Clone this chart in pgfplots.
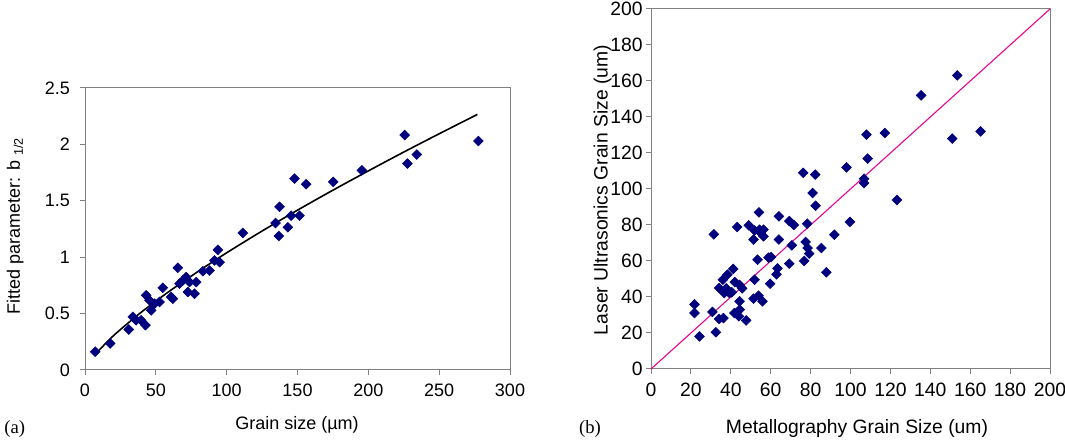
\documentclass[border=0pt]{standalone}
\usepackage{fontspec}
\setmainfont{Liberation Sans}
\newfontfamily\seriffont{Liberation Serif}
\usepackage{pgfplots}
\pgfplotsset{compat=1.18}

% b_{1/2} against grain size
\pgfplotstableread{
x y
7.2 0.162
17.8 0.235
30.9 0.359
33.8 0.471
36.1 0.441
39.6 0.441
42.7 0.397
43.2 0.662
45.5 0.618
46.7 0.529
49.1 0.588
52.6 0.603
54.9 0.729
60.8 0.647
62.0 0.632
65.5 0.906
66.7 0.765
69.1 0.794
71.4 0.824
72.6 0.691
73.8 0.779
77.3 0.676
78.5 0.779
83.2 0.876
87.9 0.882
91.4 0.971
93.8 1.065
95.0 0.956
111.4 1.215
134.5 1.303
137.3 1.447
136.8 1.188
143.2 1.265
145.5 1.368
151.4 1.368
147.9 1.697
156.1 1.647
175.2 1.668
195.4 1.770
225.7 2.083
227.6 1.830
234.2 1.910
277.7 2.030
}\fitdata

% fitted power-law curve
\pgfplotstableread{
x y
7 0.135
20 0.303
40 0.515
60 0.702
80 0.875
100 1.039
125 1.232
150 1.417
175 1.594
200 1.765
225 1.932
250 2.094
277 2.266
}\fitcurve

% laser ultrasonics vs metallography
\pgfplotstableread{
x y
153.5 163.1
135.4 152.0
165.2 132.0
151.0 128.0
108.0 130.2
117.2 131.1
108.6 116.9
98.0 112.0
106.8 105.7
106.8 103.3
123.3 93.9
76.3 109.0
82.3 108.0
81.0 97.8
82.5 90.7
99.7 81.7
91.9 74.6
85.4 67.2
87.9 53.7
78.3 80.7
71.6 80.0
69.3 82.2
64.1 84.8
64.1 71.9
70.6 68.7
77.5 70.6
78.5 67.2
76.8 60.0
79.3 64.1
69.3 58.5
63.4 55.9
62.9 52.6
59.7 47.4
58.9 61.9
60.2 62.2
53.4 60.7
54.1 87.0
43.2 78.9
49.0 79.8
51.9 77.0
54.4 77.4
56.4 77.4
51.4 71.9
56.4 73.7
55.0 75.6
31.5 74.8
51.9 49.6
51.4 39.1
53.9 40.7
55.9 37.6
41.2 55.6
38.3 52.4
36.0 49.6
34.1 45.0
37.7 44.8
40.5 42.6
44.4 46.7
45.7 44.8
42.0 48.3
44.4 37.6
44.5 33.0
41.8 31.1
44.0 29.3
47.7 27.0
30.8 31.7
34.1 27.8
36.3 28.3
32.5 20.4
21.8 35.9
21.8 31.1
24.3 18.1
39.3 42.2
36.7 42.2
}\lusdata

\definecolor{navymark}{HTML}{00007F}
\definecolor{framegray}{HTML}{808080}

\newcommand\leftfont{\fontsize{13.5}{16}\selectfont}
\newcommand\rightfont{\fontsize{14.5}{17}\selectfont}

\pgfplotsset{
  panel/.style={
    scale only axis,
    axis line style={framegray, line width=0.75pt},
    tick style={framegray, line width=0.75pt},
    tick align=outside,
    tick pos=left,
    major tick length=3.75pt,
    minor tick num=0,
    /pgf/number format/assume math mode=true,
    clip=false,
  },
  dots/.style={only marks, mark=square*, mark size=2.6pt,
    mark options={rotate=45, fill=navymark, draw=navymark}},
}

\begin{document}
\begin{tikzpicture}[x=1pt,y=1pt]
\begin{axis}[panel,
  at={(63.75pt,54pt)}, anchor=south west,
  width=318.75pt, height=211.5pt,
  xmin=0, xmax=300, ymin=0, ymax=2.5,
  xtick={0,50,...,300}, ytick={0,0.5,...,2.5},
  tick label style={font=\leftfont},
  xticklabel style={yshift=-3pt},
  yticklabel style={xshift=-4pt},
]
\addplot[dots] table {\fitdata};
\addplot[black, line width=1.2pt, smooth] table {\fitcurve};
\end{axis}

\begin{axis}[panel,
  at={(488.25pt,54.75pt)}, anchor=south west,
  width=299.25pt, height=270pt,
  xmin=0, xmax=200, ymin=0, ymax=200,
  xtick={0,20,...,200}, ytick={0,20,...,200},
  tick label style={font=\rightfont},
  xticklabel style={yshift=-3pt},
  yticklabel style={xshift=1pt},
]
\addplot[magenta, line width=0.8pt] coordinates {(0,0) (200,200)};
\addplot[dots] table {\lusdata};
\end{axis}

\node[font=\leftfont] at (222.75,13) {Grain size (µm)};
\node[font=\leftfont, rotate=90] at (11.5,162) {Fitted parameter: b \textsubscript{1/2}};
\node[font=\rightfont] at (642.75,10) {Metallography Grain Size (um)};
\node[font=\rightfont, rotate=90] at (452,189) {Laser Ultrasonics Grain Size (um)};
\node[font=\seriffont\fontsize{14}{16}\selectfont] at (11,10) {(a)};
\node[font=\seriffont\fontsize{14}{16}\selectfont] at (442.5,10) {(b)};

\pgfresetboundingbox
\path (0,0) rectangle (798.75,331.5);
\end{tikzpicture}
\end{document}
